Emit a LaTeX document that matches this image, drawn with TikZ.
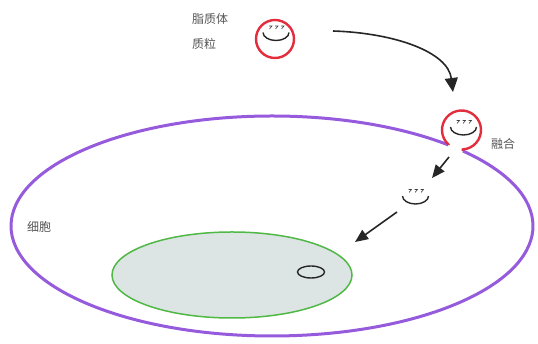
\documentclass[tikz,border=0pt]{standalone}
\usepackage{fontspec}
\newfontfamily\cjk{Noto Sans CJK SC}
\usetikzlibrary{arrows.meta,shapes.geometric}

\definecolor{membrane}{RGB}{150,90,220}
\definecolor{nucline}{RGB}{80,185,70}
\definecolor{nucfill}{RGB}{220,228,228}
\definecolor{lipo}{RGB}{228,45,60}
\definecolor{labelgray}{RGB}{85,85,85}

\tikzset{
  label/.style={font=\cjk\fontsize{12}{14}\selectfont, text=labelgray, inner sep=0pt, anchor=west},
  flow/.style={line width=1.6pt, draw=black!85, -{Triangle[length=13pt,width=11pt]}},
  lipowall/.style={draw=lipo, line width=2.4pt},
  % plasmid: a cup-shaped loop with short strands above it
  plasmid/.pic={
    \draw[line width=1.4pt, black!85] (-13,0) arc[start angle=180, end angle=360, x radius=13, y radius=8];
    \foreach \dx in {-7,-1,5}{
      \draw[line width=0.6pt, black!75] (\dx,6.5) -- (\dx+3,6.5) .. controls (\dx+1,4.5) .. (\dx+0.5,3.5);
    }
  }
}

\begin{document}
\begin{tikzpicture}[x=1pt, y=1pt]
  \useasboundingbox (0,0) rectangle (538,344);

  % cell and nucleus
  \coordinate (cellc) at (272,118);
  \coordinate (m1) at ([shift={(47.5:261 and 110)}]cellc);
  \coordinate (m2) at ([shift={(43.0:261 and 110)}]cellc);
  \draw[membrane, line width=3pt] (m1) arc[start angle=47.5, end angle=403, x radius=261, y radius=110];

  \node[draw=nucline, fill=nucfill, line width=1.5pt, ellipse, minimum width=240pt, minimum height=86pt, inner sep=0pt] (nucleus) at (232,69) {};
  \node[draw=black!85, line width=1.4pt, ellipse, minimum width=27pt, minimum height=12pt, inner sep=0pt] (dna) at (311,72) {};

  % free liposome carrying a plasmid
  \node[lipowall, circle, minimum size=38pt, inner sep=0pt] (lipo1) at (275,305) {};
  \pic at (276,311.5) {plasmid};

  % liposome fusing with the membrane
  \coordinate (l2c) at (461.5,214);
  \draw[lipowall] (m1) -- ([shift={(228:19.5)}]l2c) arc[start angle=228, end angle=-86, radius=19.5] -- (m2);
  \pic at (463.5,217) {plasmid};

  % released plasmid
  \pic at (415.5,148) {plasmid};

  % labels
  \node[label] (tl1) at (192,325) {脂质体};
  \node[label] (tl2) at (192,300) {质粒};
  \node[label] (tfuse) at (491,200) {融合};
  \node[label] (tcell) at (27,117) {细胞};

  % arrows
  \coordinate (a1s) at (333,313);
  \coordinate (a1e) at (453,252);
  \draw[flow, -{Triangle[length=14pt,width=13pt]}] (a1s) .. controls (395,311) and (448,292) .. (a1e);
  \coordinate (a2s) at (449,187);
  \coordinate (a2e) at (432,166);
  \draw[flow] (a2s) -- (a2e);
  \coordinate (a3s) at (397,132);
  \coordinate (a3e) at (355,102);
  \draw[flow] (a3s) -- (a3e);
\end{tikzpicture}
\end{document}
